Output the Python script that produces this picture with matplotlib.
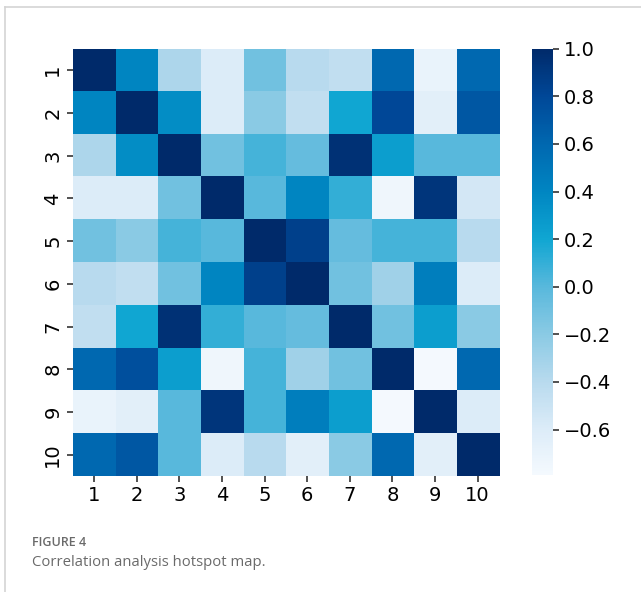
import numpy as np
import matplotlib
matplotlib.use("Agg")
import matplotlib.pyplot as plt
from matplotlib.colors import LinearSegmentedColormap
from matplotlib.lines import Line2D

labels = [str(i) for i in range(1, 11)]

# correlation matrix (rows/cols = factor 1..10)
corr = [
    [1.00, 0.40, -0.35, -0.60, -0.10, -0.40, -0.45, 0.60, -0.70, 0.60],
    [0.40, 1.00, 0.35, -0.60, -0.20, -0.45, 0.20, 0.80, -0.65, 0.70],
    [-0.35, 0.35, 1.00, -0.10, 0.05, -0.05, 0.95, 0.25, 0.00, 0.00],
    [-0.60, -0.60, -0.10, 1.00, 0.00, 0.40, 0.10, -0.75, 0.92, -0.55],
    [-0.10, -0.20, 0.05, 0.00, 1.00, 0.85, -0.05, 0.05, 0.05, -0.40],
    [-0.40, -0.45, -0.10, 0.40, 0.85, 1.00, -0.10, -0.30, 0.45, -0.60],
    [-0.45, 0.20, 0.95, 0.10, 0.00, -0.05, 1.00, -0.10, 0.25, -0.20],
    [0.60, 0.75, 0.25, -0.75, 0.05, -0.30, -0.10, 1.00, -0.79, 0.60],
    [-0.70, -0.65, 0.00, 0.92, 0.05, 0.45, 0.25, -0.79, 1.00, -0.60],
    [0.60, 0.70, 0.00, -0.60, -0.40, -0.65, -0.20, 0.60, -0.65, 1.00],
]
cbar_ticks = [1.0, 0.8, 0.6, 0.4, 0.2, 0.0, -0.2, -0.4, -0.6]

vmin, vmax = -0.79, 1.0

# blue ramp, white -> cyan -> navy
stops = [-0.79, -0.6, -0.4, -0.2, 0.0, 0.2, 0.4, 0.6, 0.8, 1.0]
cols = ["#f4f9fe", "#dcecf8", "#b8daee", "#8acae4", "#58b8dc",
        "#10a6d2", "#0086c2", "#0068b0", "#004898", "#002a6a"]
pos = [(s - vmin) / (vmax - vmin) for s in stops]
cmap = LinearSegmentedColormap.from_list("blu", list(zip(pos, cols)))

fig = plt.figure(figsize=(6.41, 5.92), dpi=100)
ax = fig.add_axes([0.1134, 0.196, 0.665, 0.7213])
cax = fig.add_axes([0.830, 0.198, 0.0328, 0.7196])

data = np.array(corr)
im = ax.imshow(data, cmap=cmap, vmin=vmin, vmax=vmax, aspect="auto",
               interpolation="nearest")
ax.set_xticks(range(10))
ax.set_yticks(range(10))
ax.set_xticklabels(labels, fontsize=14)
ax.set_yticklabels(labels, fontsize=14, rotation=90, va="center")
ax.tick_params(length=4, width=1.2, color="#333333")
for s in ax.spines.values():
    s.set_visible(False)

cb = fig.colorbar(im, cax=cax)
cb.set_ticks(cbar_ticks)
cb.set_ticklabels([f"{t:.1f}".replace("-", "\u2212") for t in cbar_ticks])
cb.ax.tick_params(labelsize=14, length=4, width=1.2, color="#333333")
cb.outline.set_visible(False)

# page frame
fig.add_artist(Line2D([5 / 641, 1], [1 - 7 / 592, 1 - 7 / 592],
                      transform=fig.transFigure, color="#d4d4d4", lw=1.2))
fig.add_artist(Line2D([5 / 641, 5 / 641], [0, 1 - 7 / 592],
                      transform=fig.transFigure, color="#d4d4d4", lw=1.2))

fig.text(32 / 641, 1 - 542 / 592, "FIGURE 4", fontsize=9, color="#6a6a6a",
         family="Open Sans", weight="semibold", va="center")
fig.text(32 / 641, 1 - 562 / 592, "Correlation analysis hotspot map.",
         fontsize=10.7, color="#6a6a6a", family="Open Sans", va="center")

fig.savefig("out.png", dpi=100)
